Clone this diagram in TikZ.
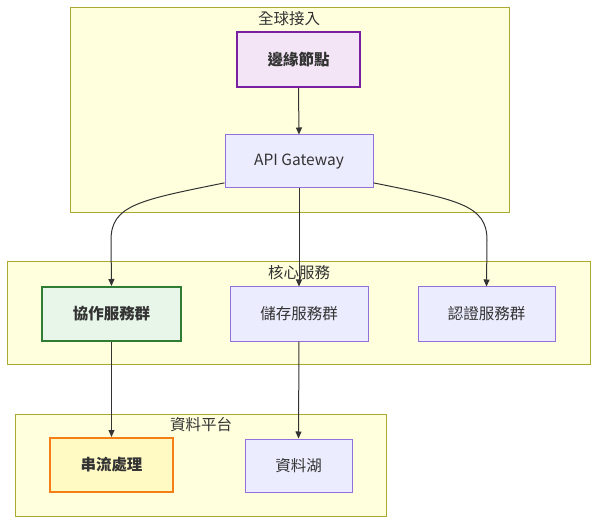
\documentclass[tikz,border=0pt]{standalone}
\usepackage{fontspec}
\setmainfont{Noto Sans CJK TC}
\usetikzlibrary{arrows.meta}
\definecolor{clfill}{HTML}{FFFFDE}
\definecolor{cldraw}{HTML}{AAAA33}
\definecolor{ndfill}{HTML}{ECECFF}
\definecolor{nddraw}{HTML}{9370DB}
\definecolor{txt}{HTML}{333333}
\definecolor{pfill}{HTML}{F3E5F5}
\definecolor{pdraw}{HTML}{7B1FA2}
\definecolor{gfill}{HTML}{E8F5E9}
\definecolor{gdraw}{HTML}{2E7D32}
\definecolor{ofill}{HTML}{FFF9C4}
\definecolor{odraw}{HTML}{F57F17}
\begin{document}
\begin{tikzpicture}[x=1pt,y=-1pt,
  cluster/.style={draw=cldraw, fill=clfill, line width=1pt, inner sep=0pt},
  cltitle/.style={text=txt, font=\fontsize{15.5}{17}\selectfont, inner sep=0pt},
  box/.style={draw=nddraw, fill=ndfill, line width=1pt, text=txt, font=\fontsize{15.5}{17}\selectfont, inner sep=0pt},
  pbox/.style={box, draw=pdraw, fill=pfill, line width=2pt},
  gbox/.style={box, draw=gdraw, fill=gfill, line width=2pt},
  obox/.style={box, draw=odraw, fill=ofill, line width=2pt},
  conn/.style={draw=txt, line width=1pt, -{Triangle[length=7pt,width=6pt]}}
]
\useasboundingbox (0,0) rectangle (606,532);
% clusters
\node[cluster, minimum width=439pt, minimum height=205pt] (c1) at (289.5,110.5) {};
\node[cltitle] (t1) at (289,19) {全球接入};
\node[cluster, minimum width=583pt, minimum height=102pt] (c2) at (298.5,313) {};
\node[cltitle] (t2) at (299,273) {核心服務};
\node[cluster, minimum width=371pt, minimum height=102pt] (c3) at (200.5,465) {};
\node[cltitle] (t3) at (201,425) {資料平台};
% nodes
\node[pbox, minimum width=123pt, minimum height=55pt] (edge) at (298.5,59.5) {\textbf{邊緣節點}};
\node[box, minimum width=148pt, minimum height=53pt] (api) at (299,161.5) {API Gateway};
\node[gbox, minimum width=139pt, minimum height=54pt] (collab) at (111.5,314) {\textbf{協作服務群}};
\node[box, minimum width=138pt, minimum height=54pt] (store) at (299,314) {儲存服務群};
\node[box, minimum width=137pt, minimum height=54pt] (auth) at (486.5,314) {認證服務群};
\node[obox, minimum width=123pt, minimum height=54pt] (stream) at (111.5,465) {\textbf{串流處理}};
\node[box, minimum width=107pt, minimum height=53pt] (lake) at (298.5,465.5) {資料湖};
% connectors
\draw[conn] (edge.south) -- (api.north);
\draw[conn] (api.south) -- (store.north);
\draw[conn] (api.196) .. controls (140,200) and (111,205) .. (111,240) -- (collab.north);
\draw[conn] (api.-16) .. controls (458,200) and (487,205) .. (487,240) -- (auth.north);
\draw[conn] (collab.south) -- (stream.north);
\draw[conn] (store.south) -- (lake.north);
\end{tikzpicture}
\end{document}
